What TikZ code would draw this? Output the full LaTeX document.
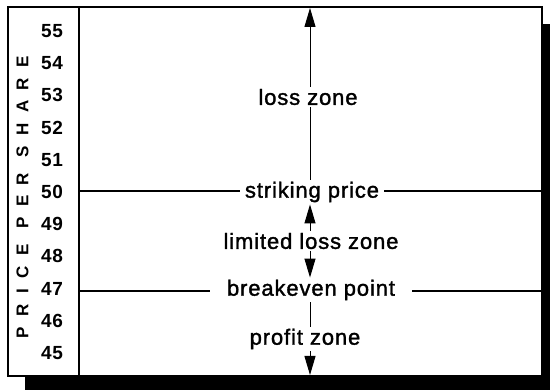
\documentclass[tikz,border=0pt]{standalone}
\usepackage{fontspec}
\setmainfont{Liberation Sans}
\usetikzlibrary{arrows.meta, positioning}

\begin{document}
\begin{tikzpicture}[
		x=1pt, y=-1pt,
		zone/.style={font=\fontsize{22}{24}\selectfont\addfontfeature{LetterSpace=4,FakeBold=1.5}, inner sep=2pt},
		level/.style={zone, inner xsep=9pt},
		tick/.style={font=\fontsize{19}{21}\selectfont\bfseries\addfontfeature{LetterSpace=3}, inner sep=0pt},
		axis/.style={font=\fontsize{17}{19}\selectfont\bfseries\addfontfeature{LetterSpace=62}, inner sep=0pt, rotate=90},
		frame/.style={line width=2pt},
		level line/.style={line width=2pt},
		line/.style={-{Triangle[length=19pt, width=11pt]}, line width=1pt},
		stem/.style={line width=1pt}
		]
		\useasboundingbox (0,0) rectangle (550,390);
		% 1. Marco con sombra
		\fill[black] (25,24) rectangle (550,390);
		\draw[frame, fill=white] (8,7) rectangle (542,376);
		\draw[frame] (79,7) -- (79,376);
		\coordinate (top) at (310,8);
		\coordinate (bottom) at (310,375);
		
		% 2. Escala de precios
		\foreach \p in {45,...,55}
		\node[tick] (p\p) at (52,{192+(50-\p)*32.2}) {\p};
		\node[axis] (eje) at (22.5,197) {PRICE PER SHARE};
		
		% 3. Zonas y niveles
		\node[zone] (loss) at (308,97) {loss zone};
		\node[level, inner xsep=5pt] (strike) at (312,192) {striking price};
		\node[zone] (limited) at (311,241) {limited loss zone};
		\node[level, inner xsep=17pt] (breakeven) at (311,290) {breakeven point};
		\node[zone] (profit) at (305,339) {profit zone};
		
		% 4. Lineas de nivel
		\coordinate (s0) at (79,191);
		\coordinate (s1) at (542,191);
		\coordinate (b0) at (79,291);
		\coordinate (b1) at (542,291);
		\draw[level line] (s0) -- (strike.west |- s0);
		\draw[level line] (strike.east |- s1) -- (s1);
		\draw[level line] (b0) -- (breakeven.west |- b0);
		\draw[level line] (breakeven.east |- b1) -- (b1);
		
		% 5. Flechas de las zonas
		\draw[stem] (strike.north -| top) -- (loss.south -| top);
		\draw[line] (loss.north -| top) -- (top);
		\draw[line] (limited.north -| top) -- (strike.south -| top);
		\draw[line] (limited.south -| top) -- (breakeven.north -| top);
		\draw[stem] (breakeven.south -| top) -- (profit.north -| top);
		\draw[line] (profit.south -| top) -- (bottom);
		
	\end{tikzpicture}
\end{document}
